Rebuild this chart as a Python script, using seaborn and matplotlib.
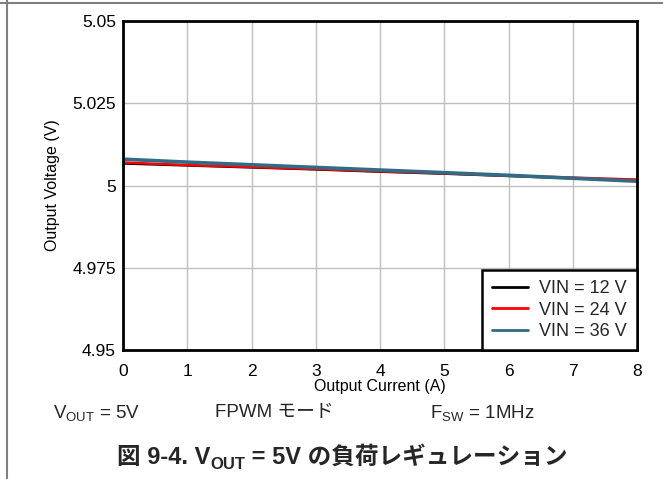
import matplotlib
matplotlib.use("Agg")
import matplotlib.pyplot as plt
from matplotlib.lines import Line2D
import seaborn as sns
import pandas as pd

# ---- data ----
current = [0, 1, 2, 3, 4, 5, 6, 7, 8]
v_12 = [5.0067, 5.0061, 5.0055, 5.0049, 5.0042, 5.0036, 5.0029, 5.0022, 5.0016]
v_24 = [5.0070, 5.0062, 5.0056, 5.0050, 5.0043, 5.0037, 5.0030, 5.0024, 5.0018]
v_36 = [5.0080, 5.0071, 5.0063, 5.0055, 5.0047, 5.0039, 5.0031, 5.0022, 5.0013]
series_names = ["VIN = 12 V", "VIN = 24 V", "VIN = 36 V"]
x_ticks = [0, 1, 2, 3, 4, 5, 6, 7, 8]
y_ticks = [4.95, 4.975, 5.0, 5.025, 5.05]
y_tick_labels = ["4.95", "4.975", "5", "5.025", "5.05"]

colors = ["#000000", "#ff0000", "#336b87"]
widths = [1.8, 1.8, 2.6]

sns.set_theme(style="white")
plt.rcParams["font.family"] = ["Liberation Sans", "Noto Sans CJK JP", "DejaVu Sans"]
plt.rcParams["mathtext.fontset"] = "custom"
plt.rcParams["mathtext.rm"] = "Liberation Sans"
plt.rcParams["mathtext.it"] = "Liberation Sans:italic"
plt.rcParams["mathtext.bf"] = "Liberation Sans:bold"

df = pd.DataFrame({
    "current": current * 3,
    "voltage": v_12 + v_24 + v_36,
    "series": [series_names[0]] * len(current) + [series_names[1]] * len(current) + [series_names[2]] * len(current),
})

fig = plt.figure(figsize=(6.63, 4.79), dpi=100)
ax = fig.add_axes([123 / 663, 1 - 350 / 479, (637 - 123) / 663, (350 - 21) / 479])

sns.lineplot(data=df, x="current", y="voltage", hue="series",
             palette=dict(zip(series_names, colors)), ax=ax, legend=False)
for line, w in zip(ax.get_lines(), widths):
    line.set_linewidth(w)

ax.set_xlim(0, 8)
ax.set_ylim(4.95, 5.05)
ax.set_xticks(x_ticks)
ax.set_xticklabels([str(t) for t in x_ticks])
ax.set_yticks(y_ticks)
ax.set_yticklabels(y_tick_labels)
ax.tick_params(axis="both", labelsize=12.5, length=0, colors="black")
ax.tick_params(axis="y", pad=5)
ax.tick_params(axis="x", pad=10)
ax.grid(True, color="#c0c0c0", linewidth=1.0)
ax.set_axisbelow(True)
for s in ax.spines.values():
    s.set_color("black")
    s.set_linewidth(2.0)
    s.set_visible(True)

ax.set_xlabel("Output Current (A)", fontsize=11.5, labelpad=0, color="black")
ax.set_ylabel("Output Voltage (V)", fontsize=11.5, labelpad=9, color="black")

handles = [Line2D([0], [0], color=c, lw=2) for c in colors]
leg = ax.legend(handles, series_names, loc="lower right", bbox_to_anchor=(1, 0),
                borderaxespad=0, fontsize=13, frameon=True, fancybox=False,
                handlelength=2.0, handletextpad=0.6, labelspacing=0.25,
                borderpad=0.55)
leg.get_frame().set_edgecolor("black")
leg.get_frame().set_linewidth(1.8)
leg.get_frame().set_alpha(1)

# outer border lines
fig.add_artist(Line2D([0, 1], [1 - 3 / 479, 1 - 3 / 479], color="#808080", lw=1.5, transform=fig.transFigure))
fig.add_artist(Line2D([7 / 663, 7 / 663], [0, 1], color="#808080", lw=1.5, transform=fig.transFigure))

# condition row
yrow = 1 - 413 / 479
fig.text(53 / 663, yrow, r"V$_{\mathrm{OUT}}$ = 5V", fontsize=13.5, va="center", ha="left")
fig.text(215 / 663, yrow, "FPWM モード", fontsize=13.5, va="center", ha="left",
         family=["Liberation Sans", "Noto Sans CJK JP"])
fig.text(430 / 663, yrow, r"F$_{\mathrm{SW}}$ = 1MHz", fontsize=13.5, va="center", ha="left")

# title (chained pieces, centred)
fam = ["Liberation Sans", "Noto Sans CJK JP"]
ybase = 1 - 464 / 479
t1 = fig.text(0, ybase, "図 9-4. V", fontsize=17, fontweight="bold",
              family=fam, va="baseline", ha="left")
t2 = fig.text(0, ybase - 5 / 479, "OUT", fontsize=12, fontweight="bold", family=fam,
              va="baseline", ha="left")
t3 = fig.text(0, ybase, " = 5V の負荷レギュレーション", fontsize=17, fontweight="bold",
              family=fam, va="baseline", ha="left")
fig.canvas.draw()
r = fig.canvas.get_renderer()
w1 = t1.get_window_extent(r).width
w2 = t2.get_window_extent(r).width
w3 = t3.get_window_extent(r).width
total = w1 + w2 + w3
x0 = 342 - total / 2
W = fig.bbox.width
t1.set_x(x0 / W)
t2.set_x((x0 + w1) / W)
t3.set_x((x0 + w1 + w2) / W)

fig.savefig("out.png", dpi=100)
